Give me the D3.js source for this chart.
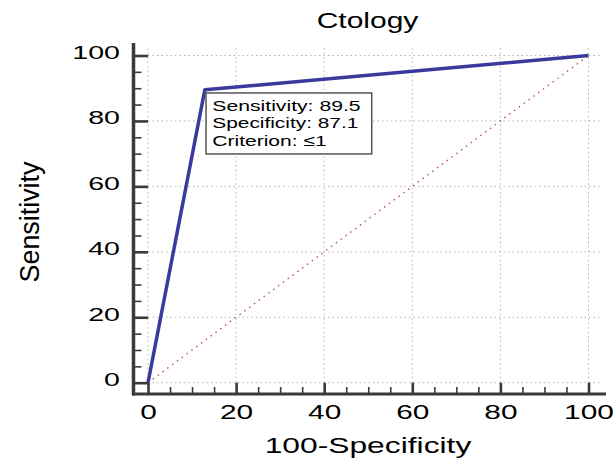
<!DOCTYPE html>
<html><head><meta charset="utf-8">
<script src="https://cdn.jsdelivr.net/npm/d3@7"></script>
<style>body{margin:0;background:#fff;} svg{display:block;}</style>
</head><body><svg id="c" width="616" height="459"></svg>
<script>
// ---- data ----
const chartTitle = "Ctology";
const xTitle = "100-Specificity";
const yTitle = "Sensitivity";
const xTicks = [0, 20, 40, 60, 80, 100];
const yTicks = [0, 20, 40, 60, 80, 100];
const minorTicks = [5, 10, 15, 25, 30, 35, 45, 50, 55, 65, 70, 75, 85, 90, 95];
const rocX = [0, 12.9, 100];          // 100 - specificity
const rocY = [0, 89.5, 100];          // sensitivity
const refX = [0, 100];
const refY = [0, 100];
const cutoffPoint = [12.9, 89.5];
const cutoffLabels = ["Sensitivity: 89.5", "Specificity: 87.1", "Criterion: \u22641"];

// ---- layout ----
const svg = d3.select("#c");
const FONT = "'Liberation Sans', Arial, sans-serif";
const x = d3.scaleLinear().domain([0, 100]).range([148, 588.5]);
const y = d3.scaleLinear().domain([0, 100]).range([382.7, 55.5]);
const axisX = 133.5, axisY = 394;
const axisColor = "#3a3a3a";

// gridlines
const grid = svg.append("g").attr("stroke", "#b5b5b5").attr("stroke-width", 1).attr("stroke-dasharray", "1.5,3");
grid.selectAll(".h").data(yTicks).join("line")
  .attr("x1", x(0)).attr("x2", x(103)).attr("y1", d => y(d)).attr("y2", d => y(d));
grid.selectAll(".v").data(xTicks).join("line")
  .attr("y1", y(0)).attr("y2", y(103)).attr("x1", d => x(d)).attr("x2", d => x(d));

// reference diagonal
const line = d3.line().x(d => x(d[0])).y(d => y(d[1]));
svg.append("path").datum(d3.zip(refX, refY)).attr("d", line)
  .attr("fill", "none").attr("stroke", "#c04848").attr("stroke-width", 1.3)
  .attr("stroke-dasharray", "1.5,4.5");

// ROC curve
svg.append("path").datum(d3.zip(rocX, rocY)).attr("d", line)
  .attr("fill", "none").attr("stroke", "#3a3a9e").attr("stroke-width", 3.5)
  .attr("stroke-linejoin", "round");

// axes lines
svg.append("line").attr("x1", axisX).attr("x2", axisX).attr("y1", 43).attr("y2", axisY + 1.5)
  .attr("stroke", axisColor).attr("stroke-width", 3.5);
svg.append("line").attr("x1", axisX - 1.5).attr("x2", 606).attr("y1", axisY).attr("y2", axisY)
  .attr("stroke", axisColor).attr("stroke-width", 3.2);

// y axis
const gy = svg.append("g").attr("transform", `translate(${axisX},0)`)
  .call(d3.axisLeft(y).tickValues(yTicks).tickSize(-(x(0) - axisX)).tickPadding(13.5));
const gyMinor = svg.append("g").attr("transform", `translate(${axisX},0)`)
  .call(d3.axisLeft(y).tickValues(minorTicks).tickSize(-8).tickFormat(""));
// x axis
const gx = svg.append("g").attr("transform", `translate(0,${axisY})`)
  .call(d3.axisBottom(x).tickValues(xTicks).tickSize(-(axisY - y(0))));
const gxMinor = svg.append("g").attr("transform", `translate(0,${axisY})`)
  .call(d3.axisBottom(x).tickValues(minorTicks).tickSize(-7).tickFormat(""));

[gy, gyMinor, gx, gxMinor].forEach(g => { g.select(".domain").remove(); });
[gy, gx].forEach(g => g.selectAll(".tick line").attr("stroke", axisColor).attr("stroke-width", 2.6));
[gyMinor, gxMinor].forEach(g => g.selectAll(".tick line").attr("stroke", axisColor).attr("stroke-width", 1.6));

gy.selectAll(".tick text")
  .attr("font-family", FONT).attr("font-size", 18.5).attr("fill", "#000")
  .attr("dy", 0).attr("y", 2.8).attr("text-anchor", "end")
  .attr("textLength", function () { return 15.9 * this.textContent.length; })
  .attr("lengthAdjust", "spacingAndGlyphs");
gx.selectAll(".tick text")
  .attr("font-family", FONT).attr("font-size", 19.5).attr("fill", "#000")
  .attr("dy", 0).attr("y", 24.7).attr("text-anchor", "middle")
  .attr("textLength", function () { return 16.6 * this.textContent.length; })
  .attr("lengthAdjust", "spacingAndGlyphs");

// titles
svg.append("text").text(chartTitle).attr("x", 367.5).attr("y", 28.3)
  .attr("text-anchor", "middle").attr("font-family", FONT).attr("font-size", 22)
  .attr("textLength", 101.7).attr("lengthAdjust", "spacingAndGlyphs");
svg.append("text").text(xTitle).attr("x", 368).attr("y", 452.7)
  .attr("text-anchor", "middle").attr("font-family", FONT).attr("font-size", 22)
  .attr("textLength", 206.7).attr("lengthAdjust", "spacingAndGlyphs");
svg.append("text").text(yTitle).attr("transform", "translate(39,222) rotate(-90)")
  .attr("text-anchor", "middle").attr("font-family", FONT).attr("font-size", 27)
  .attr("textLength", 121).attr("lengthAdjust", "spacingAndGlyphs");

// cutoff label box
const bx = x(cutoffPoint[0]) + 1.2, by = y(cutoffPoint[1]) + 3.1;
const lab = svg.append("g");
lab.append("rect").attr("x", bx).attr("y", by).attr("width", 165.7).attr("height", 61)
  .attr("fill", "#fff").attr("stroke", "#555").attr("stroke-width", 1.5);
const labWidths = [148.3, 146, 114.3];
lab.selectAll("text").data(cutoffLabels).join("text")
  .text(d => d).attr("x", bx + 6.3).attr("y", (d, i) => by + 17.7 + i * 17.5)
  .attr("font-family", FONT).attr("font-size", 15.4).attr("fill", "#000")
  .attr("textLength", (d, i) => labWidths[i]).attr("lengthAdjust", "spacingAndGlyphs");
</script></body></html>
